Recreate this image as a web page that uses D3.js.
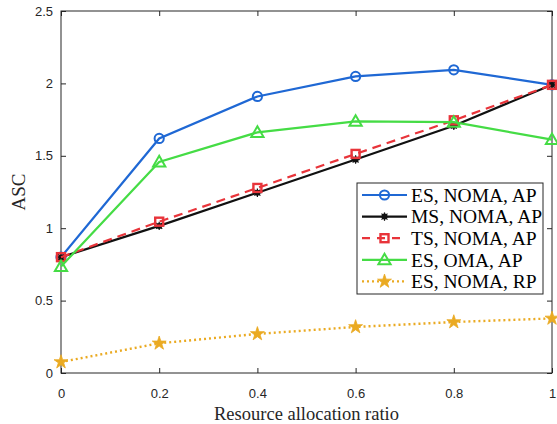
<!DOCTYPE html>
<html><head><meta charset="utf-8">
<script src="https://cdn.jsdelivr.net/npm/d3@7"></script>
<style>body{margin:0;background:#fff}svg{display:block}</style>
</head><body>
<svg id="c" width="557" height="424"></svg>
<script>
const xValues = [0, 0.2, 0.4, 0.6, 0.8, 1];
const esNomaAp = [0.80, 1.62, 1.91, 2.048, 2.094, 1.99];
const msNomaAp = [0.80, 1.016, 1.245, 1.474, 1.708, 1.99];
const tsNomaAp = [0.80, 1.045, 1.278, 1.513, 1.745, 1.99];
const esOmaAp = [0.735, 1.458, 1.662, 1.738, 1.732, 1.612];
const esNomaRp = [0.076, 0.205, 0.27, 0.318, 0.352, 0.377];
const seriesNames = ["ES, NOMA, AP", "MS, NOMA, AP", "TS, NOMA, AP", "ES, OMA, AP", "ES, NOMA, RP"];
const xTicks = [0, 0.2, 0.4, 0.6, 0.8, 1];
const yTicks = [0, 0.5, 1, 1.5, 2, 2.5];

const series = [
  {name: seriesNames[0], vals: esNomaAp, color: "#1f68d4", dash: null, marker: "circle"},
  {name: seriesNames[1], vals: msNomaAp, color: "#111111", dash: null, marker: "asterisk"},
  {name: seriesNames[2], vals: tsNomaAp, color: "#e8343a", dash: "9,6", marker: "square"},
  {name: seriesNames[3], vals: esOmaAp, color: "#45dc45", dash: null, marker: "triangle"},
  {name: seriesNames[4], vals: esNomaRp, color: "#eaaa22", dash: "2,3", marker: "star"}
];

const svg = d3.select("#c");
const L = 61, R = 552, T = 11, B = 373;
const x = d3.scaleLinear().domain([0, 1]).range([L, R]);
const y = d3.scaleLinear().domain([0, 2.5]).range([B, T]);
const axisColor = "#262626";
const tickFont = "'Liberation Sans', Arial, sans-serif";
const serif = "'Liberation Serif', 'Times New Roman', serif";

function styleAxis(g, showText) {
  g.select(".domain").remove();
  g.selectAll("line").attr("stroke", axisColor).attr("stroke-width", 1);
  g.selectAll("text").attr("fill", axisColor).style("font-family", tickFont).style("font-size", "13px");
  if (!showText) g.selectAll("text").remove();
}
const fmt = d => d3.format("~g")(d);
svg.append("g").attr("transform", `translate(0,${B})`)
  .call(d3.axisBottom(x).tickValues(xTicks).tickFormat(fmt).tickSizeInner(-5).tickSizeOuter(0).tickPadding(16))
  .call(g => styleAxis(g, true));
svg.append("g").attr("transform", `translate(0,${T})`)
  .call(d3.axisTop(x).tickValues(xTicks).tickSizeInner(-5).tickSizeOuter(0))
  .call(g => styleAxis(g, false));
svg.append("g").attr("transform", `translate(${L},0)`)
  .call(d3.axisLeft(y).tickValues(yTicks).tickFormat(fmt).tickSizeInner(-5).tickSizeOuter(0).tickPadding(8))
  .call(g => styleAxis(g, true));
svg.append("g").attr("transform", `translate(${R},0)`)
  .call(d3.axisRight(y).tickValues(yTicks).tickSizeInner(-5).tickSizeOuter(0))
  .call(g => styleAxis(g, false));
svg.append("rect").attr("x", L).attr("y", T).attr("width", R - L).attr("height", B - T)
  .attr("fill", "none").attr("stroke", axisColor).attr("stroke-width", 1);

const line = d3.line().x((d, i) => x(xValues[i])).y(d => y(d));

function drawMarker(g, type, color, cx, cy) {
  if (type === "circle") {
    g.append("circle").attr("cx", cx).attr("cy", cy).attr("r", 4.6)
      .attr("fill", "none").attr("stroke", color).attr("stroke-width", 2);
  } else if (type === "asterisk") {
    g.append("circle").attr("cx", cx).attr("cy", cy).attr("r", 3).attr("fill", color);
    for (let a = 0; a < 4; a++) {
      const ang = a * Math.PI / 4;
      g.append("line").attr("x1", cx - 4.2 * Math.cos(ang)).attr("y1", cy - 4.2 * Math.sin(ang))
        .attr("x2", cx + 4.2 * Math.cos(ang)).attr("y2", cy + 4.2 * Math.sin(ang))
        .attr("stroke", color).attr("stroke-width", 1.2);
    }
  } else if (type === "square") {
    g.append("rect").attr("x", cx - 4).attr("y", cy - 4).attr("width", 8).attr("height", 8)
      .attr("fill", "none").attr("stroke", color).attr("stroke-width", 2.4);
  } else if (type === "triangle") {
    g.append("path").attr("d", d3.symbol().type(d3.symbolTriangle).size(65)())
      .attr("transform", `translate(${cx},${cy + 1})`)
      .attr("fill", "none").attr("stroke", color).attr("stroke-width", 2);
  } else if (type === "star") {
    g.append("path").attr("d", d3.symbol().type(d3.symbolStar).size(60)())
      .attr("transform", `translate(${cx},${cy})`)
      .attr("fill", color).attr("stroke", color).attr("stroke-width", 0.8);
  }
}

series.forEach(s => {
  const g = svg.append("g");
  g.append("path").datum(s.vals).attr("d", line).attr("fill", "none")
    .attr("stroke", s.color).attr("stroke-width", s.dash === "2,3" ? 2.4 : 2.2)
    .attr("stroke-dasharray", s.dash);
  s.vals.forEach((v, i) => drawMarker(g, s.marker, s.color, x(xValues[i]), y(v)));
});

// legend
const lg = svg.append("g");
const lx = 357, ly = 183, lw = 186, lh = 111;
lg.append("rect").attr("x", lx).attr("y", ly).attr("width", lw).attr("height", lh)
  .attr("fill", "#fff").attr("stroke", axisColor).attr("stroke-width", 1);
series.forEach((s, i) => {
  const cy = ly + 12 + i * 21.6;
  lg.append("line").attr("x1", lx + 5).attr("x2", lx + 50).attr("y1", cy).attr("y2", cy)
    .attr("stroke", s.color).attr("stroke-width", s.dash === "2,3" ? 2.4 : 2.2)
    .attr("stroke-dasharray", s.dash === "9,6" ? "8,7" : s.dash);
  drawMarker(lg, s.marker, s.color, lx + 27.5, cy);
  lg.append("text").attr("x", lx + 54).attr("y", cy).attr("dy", "0.35em")
    .style("font-family", serif).style("font-size", "19.5px").attr("fill", "#000").text(s.name);
});

svg.append("text").attr("x", (L + R) / 2).attr("y", 420).attr("text-anchor", "middle")
  .style("font-family", serif).style("font-size", "18.5px").attr("fill", axisColor).text("Resource allocation ratio");
svg.append("text").attr("transform", `translate(25,${(T + B) / 2}) rotate(-90)`).attr("text-anchor", "middle")
  .style("font-family", serif).style("font-size", "19px").attr("fill", axisColor).text("ASC");
</script>
</body></html>
